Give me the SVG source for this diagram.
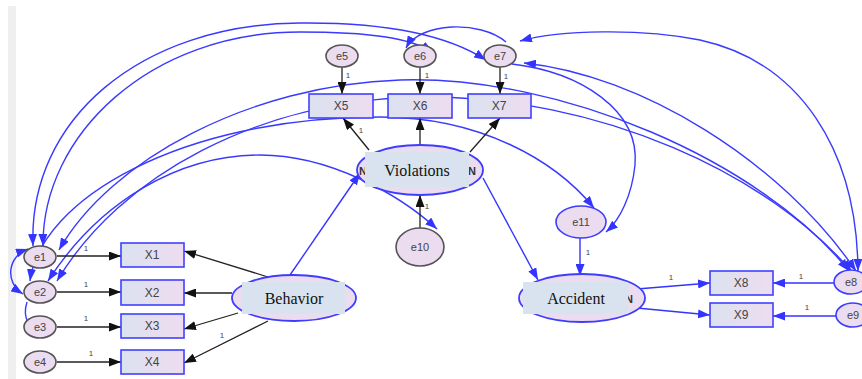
<svg xmlns="http://www.w3.org/2000/svg" width="862" height="379" viewBox="0 0 862 379">
  <defs>
    <linearGradient id="boxfill" x1="0" y1="0" x2="1" y2="0">
      <stop offset="0" stop-color="#dbe2ef"/>
      <stop offset="1" stop-color="#eedcf1"/>
    </linearGradient>
    <marker id="arrB" viewBox="0 0 12 9" refX="12" refY="4.5" markerWidth="12" markerHeight="9" markerUnits="userSpaceOnUse" orient="auto-start-reverse">
      <path d="M0,0 L12,4.5 L0,9 z" fill="#3434ff"/>
    </marker>
    <marker id="arrK" viewBox="0 0 12 9" refX="12" refY="4.5" markerWidth="12" markerHeight="9" markerUnits="userSpaceOnUse" orient="auto-start-reverse">
      <path d="M0,0 L12,4.5 L0,9 z" fill="#111"/>
    </marker>
  </defs>
  <style>
    .err { fill: #ecdcf0; stroke: #555; stroke-width: 1.6; }
    .errb { fill: #ecdcf0; stroke: #3d3dff; stroke-width: 1.6; }
    .obs { fill: url(#boxfill); stroke: #4040ff; stroke-width: 1.6; }
    .lat { fill: #ecdcf0; stroke: #3d3dff; stroke-width: 1.8; }
    .tag { fill: #d9e3f0; }
    .etxt { font-family: "Liberation Sans", Arial, sans-serif; font-size: 11px; fill: #444; text-anchor: middle; }
    .otxt { font-family: "Liberation Sans", Arial, sans-serif; font-size: 12px; fill: #444; text-anchor: middle; }
    .ltxt { font-family: "Liberation Serif", "Times New Roman", serif; font-size: 16px; fill: #111; text-anchor: middle; }
    .one { font-family: "Liberation Sans", Arial, sans-serif; font-size: 8px; fill: #444; text-anchor: middle; }
    .stub { font-family: "Liberation Sans", Arial, sans-serif; font-size: 11px; font-weight: bold; fill: #333; }
    .kln { fill: none; stroke: #222; stroke-width: 1.3; marker-end: url(#arrK); }
    .bln { fill: none; stroke: #3434ff; stroke-width: 1.4; marker-end: url(#arrB); }
    .cov { fill: none; stroke: #3a3aff; stroke-width: 1.4; }
    .two { marker-start: url(#arrB); marker-end: url(#arrB); }
    .end { marker-end: url(#arrB); }
  </style>

  <rect x="0" y="0" width="862" height="379" fill="#ffffff"/>
  <rect x="8" y="6" width="8" height="373" fill="#efefef"/>

  <!-- connectors: covariances and paths -->
  <g id="connectors">
    <!-- covariance arcs -->
    <path class="cov two" d="M33,246 C28,120 140,24 300,23 C400,22 455,40 486,60"/>
    <path class="cov two" d="M43,246 C42,135 150,32 300,32 C370,32 410,38 433,52"/>
    <path class="cov two" d="M59,250 C110,160 250,85 400,80 C560,75 760,160 849,271"/>
    <path class="cov two" d="M57,281 C120,175 260,100 420,97 C600,95 770,175 852,272"/>
    <path class="cov two" d="M30,281 C40,200 180,117 380,117 C480,117 555,160 594,208"/>
    <path class="cov two" d="M48,281 C100,200 180,155 260,155 C330,155 400,195 437,229"/>
    <path class="cov two" d="M524,63 C640,75 780,160 856,271"/>
    <path class="cov end" d="M512,64 C580,72 640,110 635,165 C632,195 620,220 606,232"/>
    <path class="cov end" d="M506,42 C480,20 420,22 406,48"/>
    <path class="cov two" d="M520,41 C560,30 640,28 700,40 C800,62 857,150 858,271"/>
    <path class="cov two" d="M28,249 C8,256 4,282 23,294"/>
    <path class="cov end" d="M27,302 C22,318 28,330 48,334"/>

    <!-- indicator paths -->
    <line class="kln" x1="57" y1="256" x2="121" y2="256"/>
    <line class="kln" x1="57" y1="292" x2="121" y2="292"/>
    <line class="kln" x1="57" y1="327" x2="121" y2="327"/>
    <line class="kln" x1="57" y1="362" x2="121" y2="362"/>
    <line class="kln" x1="268" y1="277" x2="184" y2="251"/>
    <line class="kln" x1="232" y1="293" x2="184" y2="293"/>
    <line class="kln" x1="238" y1="313" x2="184" y2="329"/>
    <line class="kln" x1="268" y1="321" x2="184" y2="363"/>
    <line class="kln" x1="342" y1="67" x2="342" y2="94"/>
    <line class="kln" x1="420" y1="67" x2="420" y2="94"/>
    <line class="kln" x1="500" y1="67" x2="500" y2="94"/>
    <line class="kln" x1="369" y1="150" x2="343" y2="118"/>
    <line class="kln" x1="420" y1="145" x2="420" y2="118"/>
    <line class="kln" x1="470" y1="152" x2="500" y2="118"/>
    <line class="kln" x1="420" y1="228" x2="420" y2="195"/>

    <!-- structural paths -->
    <line class="bln" x1="290" y1="275" x2="360" y2="173"/>
    <line class="bln" x1="483" y1="178" x2="538" y2="280"/>
    <line class="bln" x1="580" y1="238" x2="580" y2="276"/>
    <line class="bln" x1="637" y1="289" x2="710" y2="283"/>
    <line class="bln" x1="637" y1="308" x2="710" y2="315"/>
    <line class="bln" x1="834" y1="283" x2="773" y2="283"/>
    <line class="bln" x1="837" y1="316" x2="773" y2="316"/>

    <!-- fixed loadings -->
    <text class="one" x="86" y="251">1</text>
    <text class="one" x="86" y="287">1</text>
    <text class="one" x="86" y="321">1</text>
    <text class="one" x="91" y="356">1</text>
    <text class="one" x="222" y="338">1</text>
    <text class="one" x="348" y="78">1</text>
    <text class="one" x="427" y="78">1</text>
    <text class="one" x="506" y="79">1</text>
    <text class="one" x="361" y="133">1</text>
    <text class="one" x="427" y="209">1</text>
    <text class="one" x="588" y="255">1</text>
    <text class="one" x="671" y="280">1</text>
    <text class="one" x="801" y="279">1</text>
    <text class="one" x="807" y="310">1</text>
  </g>

  <!-- error terms -->
  <g id="e1"><ellipse class="err" cx="40" cy="257" rx="16" ry="11"/><text class="etxt" x="40" y="261">e1</text></g>
  <g id="e2"><ellipse class="err" cx="40" cy="292" rx="16" ry="11"/><text class="etxt" x="40" y="296">e2</text></g>
  <g id="e3"><ellipse class="err" cx="40" cy="327" rx="16" ry="11"/><text class="etxt" x="40" y="331">e3</text></g>
  <g id="e4"><ellipse class="err" cx="40" cy="362" rx="16" ry="11"/><text class="etxt" x="40" y="366">e4</text></g>
  <g id="e5"><ellipse class="err" cx="342" cy="56" rx="16" ry="11"/><text class="etxt" x="342" y="60">e5</text></g>
  <g id="e6"><ellipse class="err" cx="420" cy="56" rx="16" ry="11"/><text class="etxt" x="420" y="60">e6</text></g>
  <g id="e7"><ellipse class="err" cx="500" cy="56" rx="16" ry="11"/><text class="etxt" x="500" y="60">e7</text></g>
  <g id="e8"><ellipse class="errb" cx="851" cy="282" rx="17" ry="12"/><text class="etxt" x="851" y="286">e8</text></g>
  <g id="e9"><ellipse class="errb" cx="853" cy="315" rx="17" ry="12"/><text class="etxt" x="853" y="319">e9</text></g>
  <g id="e10"><ellipse class="err" cx="420" cy="247" rx="24" ry="19"/><text class="etxt" x="420" y="251">e10</text></g>
  <g id="e11"><ellipse class="errb" cx="581" cy="222" rx="25" ry="16"/><text class="etxt" x="581" y="226">e11</text></g>

  <!-- observed variables -->
  <g id="X1"><rect class="obs" x="121" y="243" width="63" height="24"/><text class="otxt" x="152" y="259">X1</text></g>
  <g id="X2"><rect class="obs" x="121" y="280" width="63" height="25"/><text class="otxt" x="152" y="297">X2</text></g>
  <g id="X3"><rect class="obs" x="121" y="314" width="63" height="24"/><text class="otxt" x="152" y="330">X3</text></g>
  <g id="X4"><rect class="obs" x="121" y="350" width="63" height="24"/><text class="otxt" x="152" y="366">X4</text></g>
  <g id="X5"><rect class="obs" x="309" y="94" width="64" height="24"/><text class="otxt" x="341" y="110">X5</text></g>
  <g id="X6"><rect class="obs" x="388" y="94" width="64" height="24"/><text class="otxt" x="420" y="110">X6</text></g>
  <g id="X7"><rect class="obs" x="468" y="94" width="63" height="24"/><text class="otxt" x="499" y="110">X7</text></g>
  <g id="X8"><rect class="obs" x="710" y="271" width="63" height="24"/><text class="otxt" x="741" y="287">X8</text></g>
  <g id="X9"><rect class="obs" x="710" y="303" width="63" height="24"/><text class="otxt" x="741" y="319">X9</text></g>

  <!-- latent variables -->
  <g id="Behavior">
    <ellipse class="lat" cx="294" cy="298" rx="62" ry="23"/>
    <rect class="tag" x="242" y="282" width="103" height="32"/>
    <text class="ltxt" x="294" y="304">Behavior</text>
  </g>
  <g id="Violations">
    <ellipse class="lat" cx="420" cy="170" rx="63" ry="25"/>
    <text class="stub" x="359" y="175">N</text>
    <text class="stub" x="468" y="175">N</text>
    <rect class="tag" x="365" y="152" width="104" height="35"/>
    <text class="ltxt" x="417" y="176">Violations</text>
  </g>
  <g id="Accident">
    <ellipse class="lat" cx="582" cy="298" rx="63" ry="24"/>
    <text class="stub" x="625" y="303">N</text>
    <rect class="tag" x="523" y="282" width="105" height="32"/>
    <text class="ltxt" x="576" y="304">Accident</text>
  </g>
</svg>
